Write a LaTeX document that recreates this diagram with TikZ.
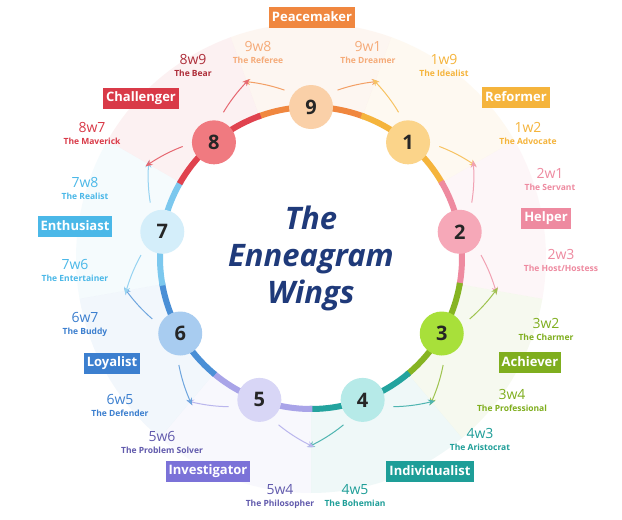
\documentclass[tikz,border=0pt]{standalone}
\usepackage{fontspec}
\setmainfont{Open Sans}
\usetikzlibrary{arrows.meta}
\definecolor{cA}{HTML}{F0873F}\definecolor{fA}{HTML}{FAD0A8}
\definecolor{cB}{HTML}{F5B43C}\definecolor{fB}{HTML}{FBD48A}
\definecolor{cC}{HTML}{EE8AA0}\definecolor{fC}{HTML}{F6A8B8}
\definecolor{cD}{HTML}{86B422}\definecolor{fD}{HTML}{A8E03A}
\definecolor{cE}{HTML}{23A39E}\definecolor{fE}{HTML}{B6EAE8}
\definecolor{cF}{HTML}{A9A4E8}\definecolor{fF}{HTML}{D8D6F6}
\definecolor{cG}{HTML}{4A8FD6}\definecolor{fG}{HTML}{A8CCF0}
\definecolor{cH}{HTML}{7CC8EE}\definecolor{fH}{HTML}{D4EEFA}
\definecolor{cI}{HTML}{E0424E}\definecolor{fI}{HTML}{F07A80}
\definecolor{lA}{HTML}{F0873F}\definecolor{lB}{HTML}{F5B43C}\definecolor{lC}{HTML}{EE8AA0}
\definecolor{lD}{HTML}{7FAE1E}\definecolor{lE}{HTML}{1E9E98}\definecolor{lF}{HTML}{7B72D8}
\definecolor{lG}{HTML}{3C7FCF}\definecolor{lH}{HTML}{4BB8E8}\definecolor{lI}{HTML}{D93A48}
\definecolor{navy}{HTML}{1F3A7A}
\tikzset{
 num/.style={circle,minimum size=44pt,inner sep=0,font=\fontsize{20}{20}\selectfont\bfseries,text=black!85},
 lab/.style={fill=#1,text=white,font=\fontsize{13}{13}\selectfont\bfseries,inner sep=3pt,minimum height=21pt},
 wing/.style={text=#1,align=center,font=\fontsize{14}{14}\selectfont,inner sep=0},
}
\newcommand{\wg}[5]{\node[wing=#4] (#5) at (#1,#2) {#3};}
\newcommand{\nm}[1]{{\fontsize{8.5}{10}\selectfont\bfseries #1}}
\begin{document}
\begin{tikzpicture}[x=1pt,y=-1pt]
\useasboundingbox (0,0) rectangle (622,520);
\fill[white] (0,0) rectangle (622,520);
\foreach \a/\c in {0/cA,40/cB,80/cC,120/cD,160/cE,200/cF,240/cG,280/cH,320/cI}{
 \fill[\c,opacity=0.07] (311,258) -- plot[domain=\a-20:\a+20,samples=20] ({311+235*sin(\x)},{258-235*cos(\x)}) -- cycle;
}
\fill[white] (311,258) circle (152pt);
\foreach \a/\c in {0/cA,40/cB,80/cC,120/cD,160/cE,200/cF,240/cG,280/cH,320/cI}{
 \draw[\c,line width=6pt] plot[domain=\a-20.5:\a+20.5,samples=25] ({311+151*sin(\x)},{258-151*cos(\x)});
 \draw[\c!80,line width=1pt,-{Stealth[length=7pt,width=6pt]}] plot[domain=\a+9:\a+21,samples=15] ({311+(170+1.6*(\x-\a-9))*sin(\x)},{258-(170+1.6*(\x-\a-9))*cos(\x)});
 \draw[\c!80,line width=1pt,-{Stealth[length=7pt,width=6pt]}] plot[domain=\a-9:\a-21,samples=15] ({311+(170+1.6*(\a-\x-9))*sin(\x)},{258-(170+1.6*(\a-\x-9))*cos(\x)});
}
\foreach \a/\n/\f in {0/9/fA,40/1/fB,80/2/fC,120/3/fD,160/4/fE,200/5/fF,240/6/fG,280/7/fH,320/8/fI}{
 \node[num,fill=\f] (n\n) at ({311+151*sin(\a)},{258-151*cos(\a)}) {\n};
}
\node[text=navy,align=center,font=\fontsize{31}{37}\selectfont\bfseries\itshape] (title) at (311,258) {The\\Enneagram\\Wings};
\node[lab=lA] (l9) at (312,17) {Peacemaker};
\node[lab=lB] (l1) at (516,97) {Reformer};
\node[lab=lC] (l2) at (546,218) {Helper};
\node[lab=lD] (l3) at (530,362) {Achiever};
\node[lab=lE] (l4) at (430,471) {Individualist};
\node[lab=lF] (l5) at (208,471) {Investigator};
\node[lab=lG] (l6) at (112,363) {Loyalist};
\node[lab=lH] (l7) at (75,226) {Enthusiast};
\node[lab=lI] (l8) at (141,98) {Challenger};
\wg{258}{52}{9w8\\[-2pt]\nm{The Referee}}{cA!70}{w98}
\wg{368}{52}{9w1\\[-2pt]\nm{The Dreamer}}{cA!70}{w91}
\wg{444}{65}{1w9\\[-2pt]\nm{The Idealist}}{cB}{w19}
\wg{193}{65}{8w9\\[-2pt]\nm{The Bear}}{lI!80!black}{w89}
\wg{528}{133}{1w2\\[-2pt]\nm{The Advocate}}{cB}{w12}
\wg{550}{179}{2w1\\[-2pt]\nm{The Servant}}{cC}{w21}
\wg{561}{260}{2w3\\[-2pt]\nm{The Host/Hostess}}{cC}{w23}
\wg{546}{329}{3w2\\[-2pt]\nm{The Charmer}}{lD}{w32}
\wg{512}{400}{3w4\\[-2pt]\nm{The Professional}}{lD}{w34}
\wg{480}{439}{4w3\\[-2pt]\nm{The Aristocrat}}{lE}{w43}
\wg{355}{496}{4w5\\[-2pt]\nm{The Bohemian}}{lE}{w45}
\wg{280}{496}{5w4\\[-2pt]\nm{The Philosopher}}{lF!80!black}{w54}
\wg{162}{442}{5w6\\[-2pt]\nm{The Problem Solver}}{lF!80!black}{w56}
\wg{120}{405}{6w5\\[-2pt]\nm{The Defender}}{lG}{w65}
\wg{85}{324}{6w7\\[-2pt]\nm{The Buddy}}{lG}{w67}
\wg{75}{270}{7w6\\[-2pt]\nm{The Entertainer}}{lH}{w76}
\wg{85}{188}{7w8\\[-2pt]\nm{The Realist}}{lH}{w78}
\wg{92}{133}{8w7\\[-2pt]\nm{The Maverick}}{lI}{w87}
\end{tikzpicture}
\end{document}
